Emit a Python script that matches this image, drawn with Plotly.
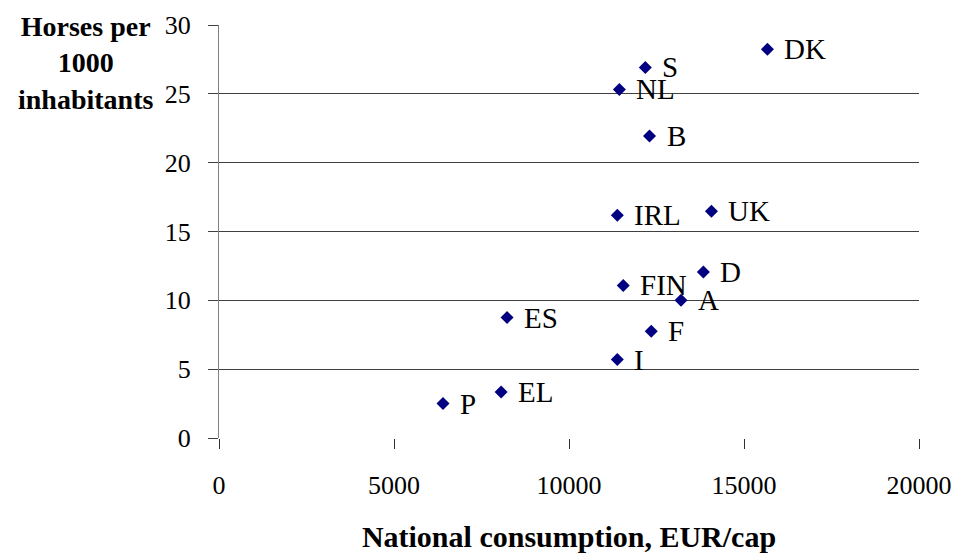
import plotly.graph_objects as go

countries = ["P", "EL", "ES", "I", "F", "FIN", "A", "D", "DK", "S", "NL", "B", "IRL", "UK"]
consumption = [6400, 8060, 8230, 11380, 12350, 11550, 13200, 13840, 15670, 12180, 11440, 12300, 11380, 14070]
horses = [2.5, 3.34, 8.75, 5.7, 7.75, 11.08, 10.0, 12.06, 28.23, 26.92, 25.32, 21.93, 16.18, 16.48]

x_ticks = [0, 5000, 10000, 15000, 20000]
y_ticks = [0, 5, 10, 15, 20, 25, 30]

FONT = "Liberation Serif"

fig = go.Figure()
fig.add_trace(go.Scatter(
    x=consumption, y=horses, mode="markers",
    marker=dict(symbol="diamond", size=10, color="#000080", line=dict(width=0)),
    hoverinfo="skip", showlegend=False,
))

for c, xv, yv in zip(countries, consumption, horses):
    fig.add_annotation(x=xv, y=yv, text=c, showarrow=False, xanchor="left", yanchor="middle",
                       xshift=15, yshift=0, font=dict(family=FONT, size=29, color="black"))

fig.add_annotation(xref="paper", yref="paper", x=-0.191, y=1.0, xanchor="center", yanchor="top",
                   yshift=16, showarrow=False, align="center",
                   text="<b>Horses per<br>1000<br>inhabitants</b>",
                   font=dict(family=FONT, size=28, color="black"))

fig.update_layout(
    width=959, height=556,
    margin=dict(l=219, r=40, t=25, b=118),
    paper_bgcolor="white", plot_bgcolor="white",
    font=dict(family=FONT, size=26, color="black"),
    xaxis=dict(range=[0, 20000], tickvals=x_ticks, tickformat="d", showgrid=False, zeroline=False,
               showline=False, ticks="outside", ticklen=10, tickcolor="#303030",
               ticklabelstandoff=14, automargin=False,
               title=dict(text="<b>National consumption, EUR/cap</b>", font=dict(family=FONT, size=30), standoff=26)),
    yaxis=dict(range=[0, 30], tickvals=y_ticks, showgrid=True, gridcolor="#404040", gridwidth=1,
               zeroline=False, showline=True, linecolor="#808080", linewidth=1, automargin=False,
               ticks="outside", ticklen=10, tickcolor="#404040", ticklabelstandoff=12),
)
fig.write_html("out.html", config={"displayModeBar": False}, post_script="document.body.style.margin='0';")
